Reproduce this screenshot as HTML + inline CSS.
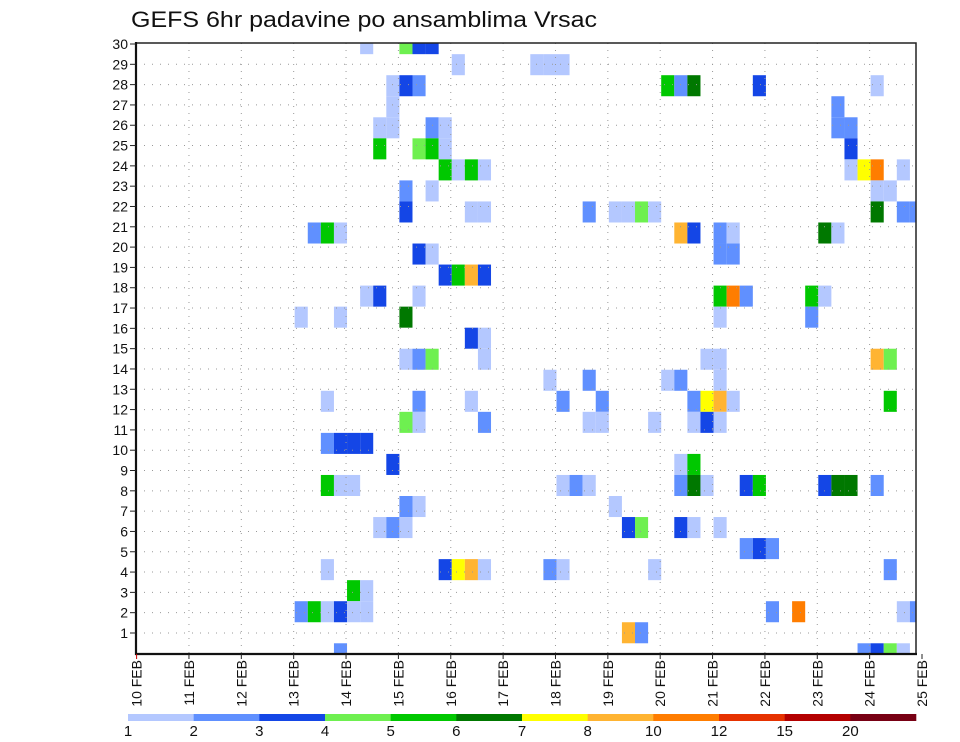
<!DOCTYPE html>
<html><head><meta charset="utf-8">
<style>
html,body{margin:0;padding:0;background:#fff;}
svg{display:block;font-family:"Liberation Sans",sans-serif;}
</style></head>
<body>
<svg id="chart" width="960" height="742" viewBox="0 0 960 742" xmlns="http://www.w3.org/2000/svg">
  <text x="131" y="27" font-size="22" textLength="466" lengthAdjust="spacingAndGlyphs" fill="#111">GEFS 6hr padavine po ansamblima Vrsac</text>
  <defs><clipPath id="plotclip"><rect x="136" y="43" width="780" height="611"/></clipPath></defs>
  <g id="cells" clip-path="url(#plotclip)"></g>
  <g id="grid"></g>
  <rect x="136" y="43" width="780" height="611" fill="none" stroke="#222" stroke-width="1.5"/>
  <line x1="136" y1="42" x2="136" y2="655" stroke="#111" stroke-width="2.2"/>
  <line x1="135" y1="654" x2="917" y2="654" stroke="#111" stroke-width="2.2"/>
  <g id="yaxis"></g>
  <g id="xaxis"></g>
  <g id="colorbar"></g>
</svg>
<script>
// ---- data ----
const cellMember = [29,29,29,29, 28,28,28,28, 27,27,27,27,27,27,27,27, 26,26, 25,25,25,25,25,25, 24,24,24,24,24,
 23,23,23,23,23,23,23,23, 22,22,22,22, 21,21,21,21,21,21,21,21,21,21,21, 20,20,20,20,20,20,20,20,20, 19,19,19,19,
 18,18,18,18, 17,17,17,17,17,17,17,17, 16,16,16,16,16, 15,15, 14,14,14,14,14,14,14,14, 13,13,13,13,13,
 12,12,12,12,12,12,12,12,12,12, 11,11,11,11,11,11,11,11,11, 10,10,10,10, 9,9,9,
 8,8,8,8,8,8,8,8,8,8,8,8,8,8,8, 7,7,7, 6,6,6,6,6,6,6,6, 5,5,5, 4,4,4,4,4,4,4,4,4, 3,3,
 2,2,2,2,2,2,2,2,2,2, 1,1, 0,0,0,0,0];
const cellStep = [17,20,21,22, 24,30,31,32, 19,20,21,40,41,42,47,56, 19,53, 18,19,22,23,53,54, 18,21,22,23,54,
 23,24,25,26,54,55,56,58, 20,22,56,57, 20,25,26,34,36,37,38,39,56,58,59, 13,14,15,41,42,44,45,52,53, 21,22,44,45,
 23,24,25,26, 17,18,21,44,45,46,51,52, 12,15,20,44,51, 25,26, 20,21,22,26,43,44,56,57, 31,34,40,41,44,
 14,21,25,32,35,42,43,44,45,57, 20,21,26,34,35,39,42,43,44, 14,15,16,17, 19,41,42,
 14,15,16,32,33,34,41,42,43,46,47,52,53,54,56, 20,21,36, 18,19,20,37,38,41,42,44, 46,47,48, 14,23,24,25,26,31,32,39,57, 16,17,
 12,13,14,15,16,17,48,50,58,59, 37,38, 15,55,56,57,58];
const cellLevel = [1,4,3,3, 1,1,1,1, 1,3,2,5,2,6,3,1, 1,2, 1,1,2,1,2,2, 5,4,5,1,3,
 5,1,5,1,1,7,9,1, 2,1,1,1, 3,1,1,2,1,1,4,1,6,2,2, 2,5,1,8,3,2,1,6,1, 3,1,2,2,
 3,5,8,3, 1,3,1,5,9,2,5,1, 1,1,6,1,2, 3,1, 1,2,4,1,1,1,8,4, 1,2,1,2,1,
 1,2,1,2,2,2,7,8,1,5, 4,1,2,1,1,1,1,3,1, 2,3,3,3, 3,1,5,
 5,1,1,1,2,1,2,6,1,3,5,3,6,6,2, 2,1,1, 1,2,1,3,4,3,1,1, 2,3,2, 1,3,7,8,1,2,1,1,2, 5,1,
 2,5,1,3,1,1,2,9,1,2, 8,2, 2,2,3,4,1];
const levelLabels = ["1","2","3","4","5","6","7","8","10","12","15","20"];
const dayLabels = ["10 FEB","11 FEB","12 FEB","13 FEB","14 FEB","15 FEB","16 FEB","17 FEB","18 FEB","19 FEB","20 FEB","21 FEB","22 FEB","23 FEB","24 FEB","25 FEB"];
const yTickLabels = [1,2,3,4,5,6,7,8,9,10,11,12,13,14,15,16,17,18,19,20,21,22,23,24,25,26,27,28,29,30];

// ---- styles ----
const palette = ["#b4c8ff","#6090ff","#1446e6","#6ef050","#00c800","#007800","#ffff00","#ffb432","#ff7d00","#e63200","#b40000","#780014"];
const NS = "http://www.w3.org/2000/svg";
const PX0 = 136, PX1 = 916, PY0 = 43, PY1 = 654;
const stepW = 13.09, dayW = 52.36;
function xStep(c){ return 137.6 + c*stepW; }
function xDay(d){ return 136.6 + d*dayW; }
function yMember(m){ return 653.8 - m*21.04; }
function yTick(n){ return 653.3 - n*20.31; }
function mk(tag, attrs, parent){ const e=document.createElementNS(NS,tag); for(const k in attrs) e.setAttribute(k,attrs[k]); parent.appendChild(e); return e; }

const gCells = document.getElementById('cells');
for(let i=0;i<cellMember.length;i++){
  const r = mk('rect',{x:xStep(cellStep[i]).toFixed(2), y:(yMember(cellMember[i])-10.52).toFixed(2), width:stepW.toFixed(2), height:"21.04", fill:palette[cellLevel[i]-1]}, gCells);
  
  
}

const gGrid = document.getElementById('grid');
for(let d=1; d<dayLabels.length-1; d++){
  const l = mk('line',{x1:xDay(d),y1:PY0,x2:xDay(d),y2:PY1,stroke:"#999","stroke-width":"1","stroke-dasharray":"1,6"}, gGrid);
  
  
}
for(let i=0;i<yTickLabels.length-1;i++){
  const y = yTick(yTickLabels[i]);
  const l = mk('line',{x1:PX0,y1:y,x2:PX1,y2:y,stroke:"#999","stroke-width":"1","stroke-dasharray":"1,7"}, gGrid);
  
  
}

const gY = document.getElementById('yaxis');
for(let i=0;i<yTickLabels.length;i++){
  const y = yTick(yTickLabels[i]);
  const t = mk('line',{x1:130,y1:y,x2:136,y2:y,stroke:"#222","stroke-width":"1"}, gY);
  
  
  const tx = mk('text',{x:128,y:y+5,"font-size":"14","text-anchor":"end",fill:"#111"}, gY);
  tx.textContent = yTickLabels[i];
  
  
}

const gX = document.getElementById('xaxis');
for(let d=0; d<dayLabels.length; d++){
  const x = xDay(d);
  const t = mk('line',{x1:x,y1:654,x2:x,y2:659,stroke:d===0?"#c00":"#222","stroke-width":"1"}, gX);
  
  
  const tx = mk('text',{x:0,y:0,"font-size":"14","text-anchor":"end",fill:"#111",transform:"translate("+(x+5)+",660) rotate(-90)"}, gX);
  tx.textContent = dayLabels[d];
  
  
}

const gC = document.getElementById('colorbar');
const cbX0 = 128, cbX1 = 916, segW = (cbX1-cbX0)/levelLabels.length;
for(let i=0;i<levelLabels.length;i++){
  const r = mk('rect',{x:(cbX0+i*segW).toFixed(2),y:714,width:(segW+0.3).toFixed(2),height:7,fill:palette[i]}, gC);
  
  
  const tx = mk('text',{x:(cbX0+i*segW).toFixed(2),y:736,"font-size":"15","text-anchor":"middle",fill:"#111"}, gC);
  tx.textContent = levelLabels[i];
  
  
}
</script>
</body></html>
